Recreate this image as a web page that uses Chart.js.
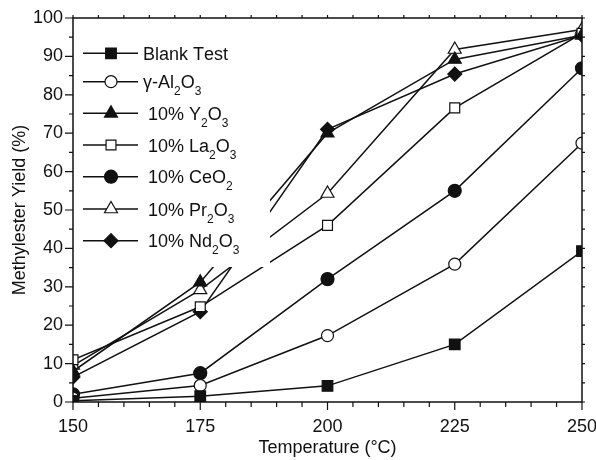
<!DOCTYPE html>
<html>
<head>
<meta charset="utf-8">
<script src="https://cdn.jsdelivr.net/npm/chart.js@4.4.0/dist/chart.umd.min.js"></script>
<style>
  html, body { margin: 0; padding: 0; background: #fff; }
  #wrap { width: 596px; height: 460px; }
</style>
</head>
<body>
<div id="wrap"><canvas id="chart" width="596" height="460"></canvas></div>
<script>
// =========================================================
// DATA
// =========================================================
const temperatures = [150, 175, 200, 225, 250];

const blankTest   = [0.3, 1.5, 4.2, 15.0, 39.3];
const aluminaOnly = [1.0, 4.3, 17.3, 35.9, 67.4];
const yttria      = [8.0, 31.2, 70.0, 89.2, 95.5];
const lanthana    = [11.0, 24.8, 46.0, 76.6, 96.0];
const ceria       = [2.0, 7.5, 32.0, 55.0, 86.9];
const praseodymia = [9.5, 29.2, 54.3, 91.8, 97.0];
const neodymia    = [6.5, 23.5, 71.0, 85.4, 95.5];

// "_x" marks a subscript character
const seriesLabels = [
  "Blank Test",
  "γ-Al_2O_3",
  " 10% Y_2O_3",
  " 10% La_2O_3",
  " 10% CeO_2",
  " 10% Pr_2O_3",
  " 10% Nd_2O_3"
];

const xTickValues = [150, 175, 200, 225, 250];
const yTickValues = [0, 10, 20, 30, 40, 50, 60, 70, 80, 90, 100];
const xMinorStep = 5;
const yMinorStep = 5;

// =========================================================
// STYLE
// =========================================================
const INK = "#111";
const FONT = '"Liberation Sans", Arial, Helvetica, sans-serif';

const markerStyles = [
  { pointStyle: "rect",     radius: 7.5, fill: INK },
  { pointStyle: "circle",   radius: 6,   fill: "#fff" },
  { pointStyle: "triangle", radius: 7.5, fill: INK },
  { pointStyle: "rect",     radius: 7,   fill: "#fff" },
  { pointStyle: "circle",   radius: 6.5, fill: INK },
  { pointStyle: "triangle", radius: 7.5, fill: "#fff" },
  { pointStyle: "rectRot",  radius: 7,   fill: INK }
];

const seriesData = [blankTest, aluminaOnly, yttria, lanthana, ceria, praseodymia, neodymia];

const datasets = seriesData.map((values, i) => ({
  label: seriesLabels[i].replace(/_/g, ""),
  data: temperatures.map((t, k) => ({ x: t, y: values[k] })),
  borderColor: INK,
  borderWidth: 1.5,
  tension: 0,
  pointStyle: markerStyles[i].pointStyle,
  pointRadius: markerStyles[i].radius,
  pointBackgroundColor: markerStyles[i].fill,
  pointBorderColor: INK,
  pointBorderWidth: 1.2,
  clip: 0
}));

// =========================================================
// HELPERS
// =========================================================
function drawMarker(ctx, style, x, y) {
  ctx.fillStyle = style.fill;
  ctx.strokeStyle = INK;
  ctx.lineWidth = 1.2;
  if (Chart.helpers && Chart.helpers.drawPoint) {
    Chart.helpers.drawPoint(ctx, { pointStyle: style.pointStyle, radius: style.radius, borderWidth: 1.2, rotation: 0 }, x, y);
    return;
  }
  const r = style.radius;
  ctx.beginPath();
  if (style.pointStyle === "circle") ctx.arc(x, y, r, 0, Math.PI * 2);
  else if (style.pointStyle === "rect") ctx.rect(x - r * Math.SQRT1_2, y - r * Math.SQRT1_2, r * Math.SQRT2, r * Math.SQRT2);
  else if (style.pointStyle === "triangle") {
    ctx.moveTo(x, y - r); ctx.lineTo(x + r * 0.866, y + r / 2); ctx.lineTo(x - r * 0.866, y + r / 2); ctx.closePath();
  } else {
    ctx.moveTo(x, y - r); ctx.lineTo(x + r, y); ctx.lineTo(x, y + r); ctx.lineTo(x - r, y); ctx.closePath();
  }
  ctx.fill();
  ctx.stroke();
}

function drawRichText(ctx, text, x, baseline) {
  let cx = x;
  for (let i = 0; i < text.length; i++) {
    if (text[i] === "_" && i + 1 < text.length) {
      ctx.font = "12px " + FONT;
      ctx.fillText(text[i + 1], cx, baseline + 7);
      cx += ctx.measureText(text[i + 1]).width;
      i++;
    } else {
      ctx.font = "18px " + FONT;
      ctx.fillText(text[i], cx, baseline);
      cx += ctx.measureText(text[i]).width;
    }
  }
}

// =========================================================
// PLUGINS
// =========================================================
const legendRowY = [53.3, 81.7, 113.3, 145, 176.7, 209, 240.7];

const boxedLegend = {
  id: "boxedLegend",
  afterDatasetsDraw(chart) {
    const ctx = chart.ctx;
    ctx.save();
    // white panel hides the lines running under the legend
    ctx.fillStyle = "#fff";
    ctx.fillRect(76, 22, 194, 245);

    seriesLabels.forEach((label, i) => {
      const y = legendRowY[i];
      ctx.strokeStyle = INK;
      ctx.lineWidth = 1.5;
      ctx.beginPath();
      ctx.moveTo(83, y);
      ctx.lineTo(138, y);
      ctx.stroke();
      drawMarker(ctx, markerStyles[i], 111, y);

      ctx.fillStyle = INK;
      ctx.textAlign = "left";
      ctx.textBaseline = "alphabetic";
      drawRichText(ctx, label, 143, y + 6.7);
    });
    ctx.restore();
  }
};

const frameTicks = {
  id: "frameTicks",
  afterDraw(chart) {
    const { ctx, chartArea: a, scales: { x, y } } = chart;
    ctx.save();
    ctx.strokeStyle = INK;
    ctx.lineWidth = 1.5;
    ctx.strokeRect(a.left, a.top, a.right - a.left, a.bottom - a.top);

    ctx.lineWidth = 1.2;
    ctx.beginPath();
    for (let v = x.min; v <= x.max; v += xMinorStep) {
      const px = x.getPixelForValue(v);
      const major = xTickValues.includes(v);
      ctx.moveTo(px, a.bottom);
      ctx.lineTo(px, a.bottom + (major ? 8 : 5));
      ctx.moveTo(px, a.top);
      ctx.lineTo(px, a.top - 3);
    }
    for (let v = y.min; v <= y.max; v += yMinorStep) {
      const py = y.getPixelForValue(v);
      const major = yTickValues.includes(v);
      ctx.moveTo(a.left, py);
      ctx.lineTo(a.left - (major ? 8 : 4), py);
      ctx.moveTo(a.right, py);
      ctx.lineTo(a.right + 3, py);
    }
    ctx.stroke();
    ctx.restore();
  }
};

// =========================================================
// CHART
// =========================================================
new Chart(document.getElementById("chart"), {
  type: "line",
  data: { datasets },
  options: {
    responsive: false,
    devicePixelRatio: 1,
    animation: false,
    layout: { padding: { left: 0, top: 18, right: 14, bottom: 0 } },
    plugins: {
      legend: { display: false },
      tooltip: { enabled: false }
    },
    scales: {
      x: {
        type: "linear",
        min: 150,
        max: 250,
        afterBuildTicks: s => { s.ticks = xTickValues.map(v => ({ value: v })); },
        afterFit: s => { s.height = 58; s.paddingLeft = 0; s.paddingRight = 0; },
        grid: { display: false, drawTicks: false },
        border: { display: false },
        ticks: { color: INK, font: { family: FONT, size: 18 }, padding: 14, maxRotation: 0 },
        title: {
          display: true,
          text: "Temperature (°C)",
          color: INK,
          font: { family: FONT, size: 18 },
          padding: { top: 0, bottom: 1 }
        }
      },
      y: {
        min: 0,
        max: 100,
        afterBuildTicks: s => { s.ticks = yTickValues.map(v => ({ value: v })); },
        afterFit: s => { s.width = 73; s.paddingTop = 0; s.paddingBottom = 0; },
        grid: { display: false, drawTicks: false },
        border: { display: false },
        ticks: { color: INK, font: { family: FONT, size: 18 }, padding: 10 },
        title: {
          display: true,
          text: "Methylester Yield (%)",
          color: INK,
          font: { family: FONT, size: 18 },
          padding: { top: 9, bottom: 0 }
        }
      }
    }
  },
  plugins: [boxedLegend, frameTicks]
});
</script>
</body>
</html>
